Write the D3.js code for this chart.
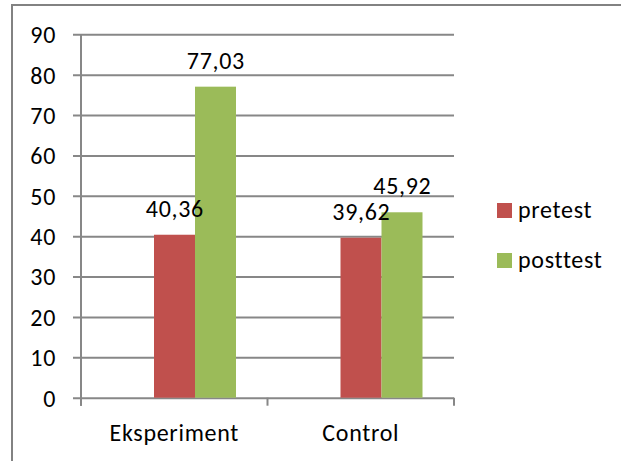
<!DOCTYPE html>
<html>
<head>
<meta charset="utf-8">
<script src="https://cdn.jsdelivr.net/npm/d3@7/dist/d3.min.js"></script>
<style>
  html, body { margin: 0; padding: 0; background: #fff; }
  svg { display: block; }
  text { font-family: Carlito, Lato, "Liberation Sans", sans-serif; fill: #000; }
</style>
</head>
<body>
<svg id="chart" width="621" height="461"></svg>
<script>
// Mean scores per group
const categories = ["Eksperiment", "Control"];
const seriesNames = ["pretest", "posttest"];
const pretest = [40.36, 39.62];
const posttest = [77.03, 45.92];
const yTicks = [0, 10, 20, 30, 40, 50, 60, 70, 80, 90];
const colors = ["#c0504d", "#9bbb59"];

const seriesValues = [pretest, posttest];
const fmt = v => v.toFixed(2).replace(".", ",");

const svg = d3.select("#chart");
const fontSize = 24;
const spacing = "0.7px";
const fontFamily = "Carlito, Lato, 'Liberation Sans', sans-serif";
const gridColor = "#878787";

function textStyle(sel) {
  sel.style("font-size", fontSize + "px")
     .style("font-family", fontFamily)
     .style("letter-spacing", spacing)
     .attr("fill", "#000");
}

// Outer frame (top and left edges visible)
svg.append("path")
  .attr("d", "M12,470 L12,5 L630,5")
  .attr("fill", "none")
  .attr("stroke", "#828282")
  .attr("stroke-width", 2);

const plot = { left: 81, right: 454, top: 34.3, bottom: 397.7 };

const y = d3.scaleLinear().domain([0, 90]).range([plot.bottom, plot.top]);
const x0 = d3.scaleBand().domain(categories).range([plot.left, plot.right]).padding(0);
const barWidth = 41;
const x1 = d3.scaleBand().domain(seriesNames).range([0, barWidth * seriesNames.length]).padding(0);
// left edge of each bar group inside its category band
const groupStart = 73;

// Horizontal gridlines with tick stubs to the left
const yAxis = d3.axisLeft(y)
  .tickValues(yTicks)
  .tickSize(-(plot.right - plot.left))
  .tickFormat(d => d);
const gy = svg.append("g")
  .attr("transform", `translate(${plot.left},0)`)
  .call(yAxis);
gy.select(".domain").remove();
gy.selectAll(".tick line")
  .attr("x1", -8)
  .attr("stroke", gridColor)
  .attr("stroke-width", 2);
gy.selectAll(".tick text")
  .attr("x", -25)
  .attr("dy", "0.35em")
  .call(textStyle);

// Bars
const groups = svg.append("g").selectAll("g")
  .data(categories)
  .join("g")
  .attr("transform", c => `translate(${x0(c) + groupStart},0)`);

groups.selectAll("rect")
  .data((c, i) => seriesNames.map((s, j) => ({ s, j, v: seriesValues[j][i] })))
  .join("rect")
  .attr("x", d => x1(d.s))
  .attr("width", x1.bandwidth())
  .attr("y", d => y(d.v))
  .attr("height", d => y(0) - y(d.v))
  .attr("fill", d => colors[d.j]);

// Value labels above bars
groups.selectAll("text.val")
  .data((c, i) => seriesNames.map((s, j) => ({ s, j, v: seriesValues[j][i] })))
  .join("text")
  .attr("class", "val")
  .attr("x", d => x1(d.s) + x1.bandwidth() / 2 + 0.35)
  .attr("y", d => y(d.v) - 18)
  .attr("text-anchor", "middle")
  .call(textStyle)
  .text(d => fmt(d.v));

// Category axis
const xAxis = d3.axisBottom(x0).tickSize(0).tickFormat(d => d);
const gx = svg.append("g")
  .attr("transform", `translate(0,${plot.bottom})`)
  .call(xAxis);
gx.select(".domain").remove();
gx.selectAll(".tick text")
  .attr("y", 43)
  .attr("dy", 0)
  .call(textStyle);

// Category boundary ticks
const boundaries = categories.map(c => x0(c)).concat([plot.right]);
svg.append("g").selectAll("line")
  .data(boundaries)
  .join("line")
  .attr("x1", d => d).attr("x2", d => d)
  .attr("y1", plot.bottom).attr("y2", plot.bottom + 8)
  .attr("stroke", gridColor)
  .attr("stroke-width", 2);

// Vertical value axis line
svg.append("line")
  .attr("x1", plot.left).attr("x2", plot.left)
  .attr("y1", plot.top).attr("y2", plot.bottom + 8)
  .attr("stroke", gridColor)
  .attr("stroke-width", 2);

// Legend
const legend = svg.append("g").attr("transform", "translate(497,203)");
const li = legend.selectAll("g")
  .data(seriesNames)
  .join("g")
  .attr("transform", (d, i) => `translate(0,${i * 50})`);
li.append("rect")
  .attr("width", 15).attr("height", 15)
  .attr("fill", (d, i) => colors[i]);
li.append("text")
  .attr("x", 21)
  .attr("y", 15)
  .call(textStyle)
  .text(d => d);
</script>
</body>
</html>
